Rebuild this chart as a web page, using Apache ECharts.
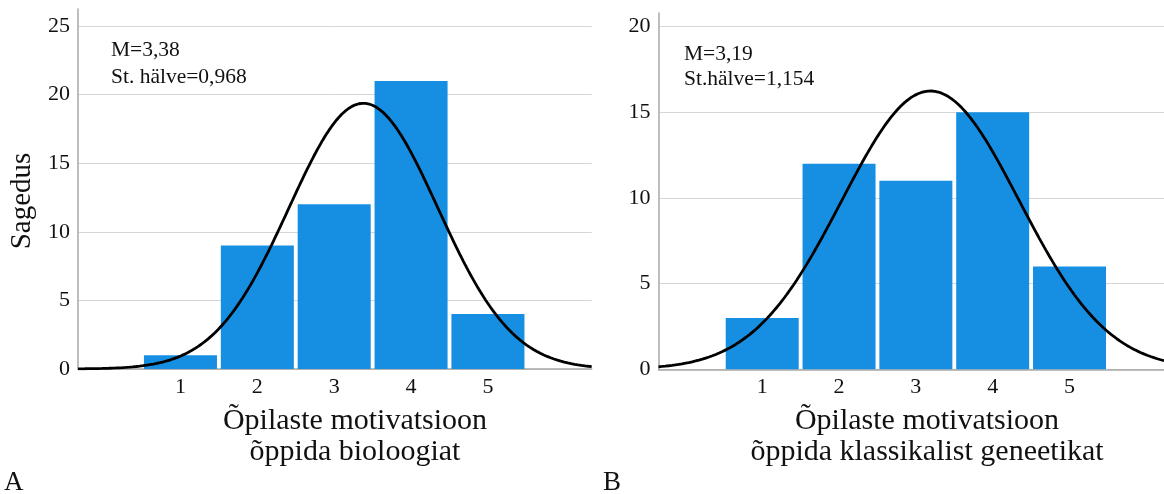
<!DOCTYPE html>
<html>
<head>
<meta charset="utf-8">
<script src="https://cdn.jsdelivr.net/npm/echarts@6/dist/echarts.min.js"></script>
<style>
html,body{margin:0;padding:0;background:#fff;}
#chart{width:1164px;height:494px;}
</style>
</head>
<body>
<div id="chart"></div>
<script>
// ---- data ----
const categories = [1, 2, 3, 4, 5];
const countsA = [1, 9, 12, 21, 4];
const countsB = [3, 12, 11, 15, 6];
const meanA = 3.38, sdA = 0.968;
const meanB = 3.19, sdB = 1.154;
const yTicksA = [0, 5, 10, 15, 20, 25];
const yTicksB = [0, 5, 10, 15, 20];
const statsTextA = ['M=3,38', 'St. hälve=0,968'];
const statsTextB = ['M=3,19', 'St.hälve=1,154'];
const xTitleA = ['Õpilaste motivatsioon', 'õppida bioloogiat'];
const xTitleB = ['Õpilaste motivatsioon', 'õppida klassikalist geneetikat'];
const yTitle = 'Sagedus';
const panelLabels = ['A', 'B'];

// ---- styling ----
const BLUE = '#168fe3';
const FONT = 'Liberation Serif';
const AXIS_GRAY = '#a8a8a8';
const GRID_GRAY = '#d6d6d6';
const HALF = 0.475;

const xRangeA = [-0.333, 6.35];
const xRangeB = [-0.35, 6.23];

function normalCurve(counts, mean, sd, range) {
  const n = counts.reduce((a, b) => a + b, 0);
  const pts = [];
  const steps = 300;
  for (let i = 0; i <= steps; i++) {
    const x = range[0] + (range[1] - range[0]) * i / steps;
    const z = (x - mean) / sd;
    pts.push([x, n * Math.exp(-0.5 * z * z) / (sd * Math.sqrt(2 * Math.PI))]);
  }
  return pts;
}

function barSeries(counts, idx) {
  return {
    type: 'custom',
    xAxisIndex: idx, yAxisIndex: idx,
    data: categories.map((c, i) => [c, counts[i]]),
    renderItem: function (params, api) {
      const x = api.value(0), y = api.value(1);
      const p0 = api.coord([x - HALF, y]);
      const p1 = api.coord([x + HALF, 0]);
      return {
        type: 'rect',
        shape: { x: p0[0], y: p0[1], width: p1[0] - p0[0], height: p1[1] - p0[1] },
        style: { fill: BLUE }
      };
    },
    z: 2
  };
}

function curveSeries(counts, mean, sd, range, idx) {
  return {
    type: 'line', xAxisIndex: idx, yAxisIndex: idx,
    data: normalCurve(counts, mean, sd, range),
    showSymbol: false, smooth: false,
    lineStyle: { color: '#000', width: 2.8 },
    z: 5, silent: true
  };
}

function xAxisDef(idx, range) {
  return {
    type: 'value', gridIndex: idx, min: range[0], max: range[1],
    axisLine: { show: true, onZero: false, lineStyle: { color: AXIS_GRAY, width: 1.5 } },
    axisTick: { show: false },
    splitLine: { show: false },
    axisLabel: {
      customValues: categories,
      color: '#111', fontFamily: FONT, fontSize: 22, margin: 7
    }
  };
}

function yAxisDef(idx, max, ticks) {
  return {
    type: 'value', gridIndex: idx, min: 0, max: max, interval: 5,
    axisLine: { show: true, onZero: false, lineStyle: { color: AXIS_GRAY, width: 1.5 } },
    axisTick: { show: false },
    splitLine: { show: true, showMaxLine: false, lineStyle: { color: GRID_GRAY, width: 1 } },
    axisLabel: {
      customValues: ticks,
      color: '#111', fontFamily: FONT, fontSize: 22, margin: 8
    }
  };
}

function textEl(text, x, y, size, align, lineHeight) {
  const style = {
    text: text, font: size + 'px "' + FONT + '"', fill: '#111',
    textAlign: align, textVerticalAlign: 'middle'
  };
  if (lineHeight) style.lineHeight = lineHeight;
  return { type: 'text', x: x, y: y, style: style };
}

const chart = echarts.init(document.getElementById('chart'), null, { renderer: 'canvas' });
chart.setOption({
  animation: false,
  backgroundColor: '#fff',
  grid: [
    { left: 78, top: 9, width: 513.7, height: 360 },
    { left: 658.5, top: 13, width: 505.5, height: 356.3 }
  ],
  xAxis: [xAxisDef(0, xRangeA), xAxisDef(1, xRangeB)],
  yAxis: [yAxisDef(0, 26.24, yTicksA), yAxisDef(1, 20.8, yTicksB)],
  series: [
    barSeries(countsA, 0),
    barSeries(countsB, 1),
    curveSeries(countsA, meanA, sdA, xRangeA, 0),
    curveSeries(countsB, meanB, sdB, xRangeB, 1)
  ],
  graphic: [
    textEl(statsTextA[0], 111, 50.5, 21.5, 'left'),
    textEl(statsTextA[1], 111, 77.5, 21.5, 'left'),
    textEl(statsTextB[0], 684, 54, 21.5, 'left'),
    textEl(statsTextB[1], 684, 79.5, 21.5, 'left'),
    {
      type: 'text', x: 22, y: 201, rotation: Math.PI / 2,
      style: { text: yTitle, font: '29px "' + FONT + '"', fill: '#111', textAlign: 'center', textVerticalAlign: 'middle' }
    },
    textEl(xTitleA.join('\n'), 355, 437, 30, 'center', 31),
    textEl(xTitleB.join('\n'), 927, 437, 30, 'center', 31),
    textEl(panelLabels[0], 4, 482.5, 27, 'left'),
    textEl(panelLabels[1], 603, 482.5, 27, 'left')
  ]
});
</script>
</body>
</html>
